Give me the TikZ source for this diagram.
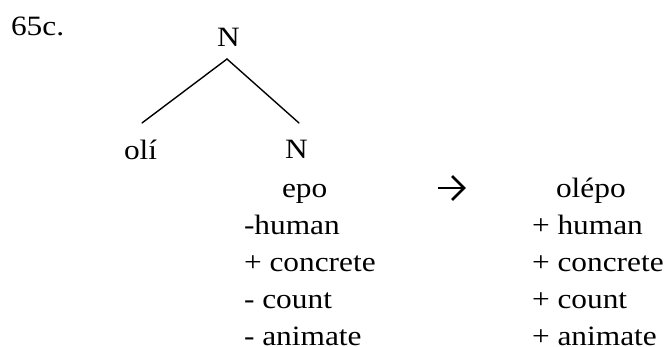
\documentclass[tikz,border=0pt]{standalone}
\usepackage{fontspec}
\setmainfont{Liberation Serif}[FakeStretch=1.12]
\begin{document}
\begin{tikzpicture}[x=1pt,y=-1pt,
  lbl/.style={inner sep=0pt,outer sep=0pt,anchor=base west,font=\fontsize{28}{34}\selectfont},
  branch/.style={line width=1.4pt,line cap=round},
  arrowsym/.style={line width=2.6pt,line join=miter}]
\useasboundingbox[fill=white] (0,0) rectangle (666,347);

% example number and tree
\node[lbl] (num) at (11,36) {65c.};
\node[lbl] (top) at (217,47) {N};
\node[lbl] (oli) at (124,160) {olí};
\node[lbl] (sub) at (285,159) {N};

\coordinate (apex) at (227,59);
\coordinate (lend) at (142,123);
\coordinate (rend) at (299,123);
\draw[branch] (apex) -- (lend);
\draw[branch] (apex) -- (rend);

% feature matrix of the base noun
\node[lbl] (epo) at (282,198) {epo};
\node[lbl] (l1) at (244,235) {-human};
\node[lbl] (l2) at (244,272) {+ concrete};
\node[lbl] (l3) at (244,308) {- count};
\node[lbl] (l4) at (244,345) {- animate};

% derivation arrow
\draw[arrowsym] (438,188) -- (463,188);
\draw[arrowsym] (452,176) -- (464,188) -- (452,200);

% feature matrix of the derived noun
\node[lbl] (olepo) at (556,198) {olépo};
\node[lbl] (r1) at (532,235) {+ human};
\node[lbl] (r2) at (532,272) {+ concrete};
\node[lbl] (r3) at (532,308) {+ count};
\node[lbl] (r4) at (532,345) {+ animate};
\end{tikzpicture}
\end{document}
